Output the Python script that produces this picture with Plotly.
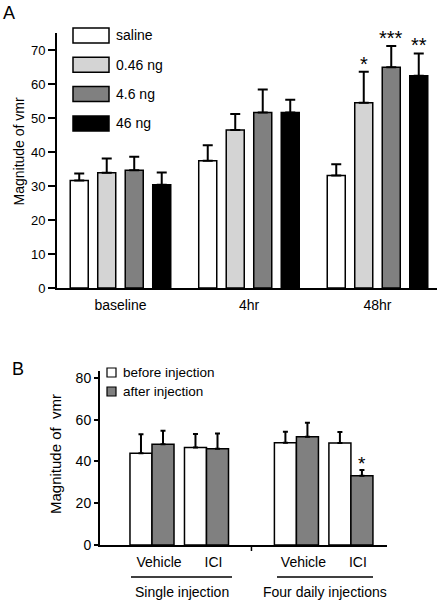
import plotly.graph_objects as go

# ---------------- Data ----------------
# Panel A
time_points = ["baseline", "4hr", "48hr"]
doses = ["saline", "0.46 ng", "4.6 ng", "46 ng"]
dose_colors = ["#ffffff", "#d4d4d4", "#808080", "#000000"]
vmr_saline = [31.6, 37.4, 33.1]
err_saline = [2.1, 4.6, 3.3]
vmr_046ng = [33.9, 46.5, 54.5]
err_046ng = [4.2, 4.7, 9.1]
vmr_46ng_a = [34.6, 51.6, 64.9]
err_46ng_a = [4.0, 6.8, 6.3]
vmr_46ng = [30.4, 51.6, 62.4]
err_46ng = [3.6, 3.8, 6.6]
stars_saline = ["", "", ""]
stars_046ng = ["", "", "*"]
stars_46ng_a = ["", "", "***"]
stars_46ng = ["", "", "**"]
yticks_a = [0, 10, 20, 30, 40, 50, 60, 70]

# Panel B
treatments = ["Vehicle", "ICI", "Vehicle", "ICI"]
regimens = ["Single injection", "Four daily injections"]
phases = ["before injection", "after injection"]
phase_colors = ["#ffffff", "#808080"]
vmr_before = [43.9, 46.7, 48.9, 48.8]
err_before = [9.1, 6.4, 5.3, 5.3]
vmr_after = [48.2, 46.1, 51.8, 33.2]
err_after = [6.5, 7.3, 6.7, 2.7]
stars_after = ["", "", "", "*"]
yticks_b = [0, 20, 40, 60, 80]

# ---------------- Layout helpers ----------------
W, H = 440, 601
FONT = "Liberation Sans, Arial, sans-serif"


def px(x):
    return x / W


def py(y):
    return 1 - y / H


# Panel A geometry
xa_dom = [px(57), px(437)]
ya_dom = [py(288), py(33)]
xa_range = [-0.494, 2.463]
ya_range = [0, 75]
bargap_a, bargroupgap_a = 0.144, 0.345

# Panel B geometry
xb_dom = [px(100), px(387)]
yb_dom = [py(545), py(371)]
xb_pos = [0, 1, 2.65, 3.65]
xb_range = [-0.954, 4.312]
yb_range = [0, 83.3]
bar_w_b = 0.404

fig = go.Figure()

series_a = [
    (vmr_saline, err_saline, stars_saline),
    (vmr_046ng, err_046ng, stars_046ng),
    (vmr_46ng_a, err_46ng_a, stars_46ng_a),
    (vmr_46ng, err_46ng, stars_46ng),
]

for name, color, (vals, errs, _) in zip(doses, dose_colors, series_a):
    fig.add_trace(go.Bar(
        x=time_points, y=vals, name=name, showlegend=False,
        marker=dict(color=color, line=dict(color="black", width=1.5)),
        error_y=dict(type="data", array=errs, arrayminus=[0] * len(errs),
                     symmetric=False, color="black", thickness=2, width=5),
        xaxis="x", yaxis="y",
    ))

for k, (name, color, vals, errs) in enumerate(zip(phases, phase_colors,
                                                  [vmr_before, vmr_after],
                                                  [err_before, err_after])):
    fig.add_trace(go.Bar(
        x=xb_pos, y=vals, name=name, showlegend=False,
        width=bar_w_b, offset=(k - 1) * bar_w_b,
        marker=dict(color=color, line=dict(color="black", width=1.5)),
        error_y=dict(type="data", array=errs, arrayminus=[0] * len(errs),
                     symmetric=False, color="black", thickness=2, width=2.5),
        xaxis="x2", yaxis="y2",
    ))

annotations = []
shapes = []

# significance stars, panel A
px_per_unit_a = (xa_dom[1] - xa_dom[0]) * W / (xa_range[1] - xa_range[0])
slot_a = (1 - bargap_a) / len(doses) * px_per_unit_a
for i, (vals, errs, stars) in enumerate(series_a):
    for j, s in enumerate(stars):
        if s:
            annotations.append(dict(
                x=time_points[j], y=vals[j] + errs[j], xref="x", yref="y",
                xshift=(i - (len(doses) - 1) / 2) * slot_a, yshift=-5,
                text=s, showarrow=False, xanchor="center", yanchor="bottom",
                font=dict(size=20, family=FONT, color="black")))

# significance stars, panel B
px_per_unit_b = (xb_dom[1] - xb_dom[0]) * W / (xb_range[1] - xb_range[0])
for j, s in enumerate(stars_after):
    if s:
        annotations.append(dict(
            x=xb_pos[j], y=vmr_after[j] + err_after[j], xref="x2", yref="y2",
            xshift=bar_w_b / 2 * px_per_unit_b, yshift=-6, text=s,
            showarrow=False, xanchor="center", yanchor="bottom",
            font=dict(size=19, family=FONT, color="black")))

# Legend A (wide rectangles)
for k, (name, color) in enumerate(zip(doses, dose_colors)):
    yc = 35.5 + k * 29.3
    shapes.append(dict(type="rect", xref="paper", yref="paper",
                       x0=px(73), x1=px(109), y0=py(yc + 7.5), y1=py(yc - 7.5),
                       fillcolor=color, line=dict(color="black", width=1.5)))
    annotations.append(dict(x=px(114), y=py(yc), xref="paper", yref="paper",
                            text=name, showarrow=False, xanchor="left",
                            yanchor="middle",
                            font=dict(size=14, family=FONT, color="black")))

# Legend B (small squares)
for k, (name, color) in enumerate(zip(phases, phase_colors)):
    yc = 372.5 + k * 19
    shapes.append(dict(type="rect", xref="paper", yref="paper",
                       x0=px(107), x1=px(116), y0=py(yc + 4.5), y1=py(yc - 4.5),
                       fillcolor=color, line=dict(color="black", width=1.2)))
    annotations.append(dict(x=px(121), y=py(yc), xref="paper", yref="paper",
                            text=name, showarrow=False, xanchor="left",
                            yanchor="middle",
                            font=dict(size=13.5, family=FONT, color="black")))

# Separator tick between regimens, panel B
mid_b = (xb_pos[1] + xb_pos[2]) / 2
shapes.append(dict(type="line", xref="x2", yref="paper", x0=mid_b, x1=mid_b,
                   y0=py(545), y1=py(551), line=dict(color="black", width=1.5)))

# Regimen underlines and labels
for name, (x0, x1) in zip(regimens, [(131, 232), (277, 373)]):
    shapes.append(dict(type="line", xref="paper", yref="paper",
                       x0=px(x0), x1=px(x1), y0=py(577), y1=py(577),
                       line=dict(color="black", width=1.5)))
    annotations.append(dict(x=px((x0 + x1) / 2), y=py(592), xref="paper",
                            yref="paper", text=name, showarrow=False,
                            xanchor="center", yanchor="middle",
                            font=dict(size=14, family=FONT, color="black")))

# Axis titles and panel letters
annotations += [
    dict(x=px(18), y=py(151.5), xref="paper", yref="paper",
         text="Magnitude of vmr", textangle=-90, showarrow=False,
         xanchor="center", yanchor="middle",
         font=dict(size=14, family=FONT, color="black")),
    dict(x=px(55), y=py(454), xref="paper", yref="paper",
         text="Magnitude of &nbsp;vmr", textangle=-90, showarrow=False,
         xanchor="center", yanchor="middle",
         font=dict(size=15, family=FONT, color="black")),
    dict(x=px(8.5), y=py(13.5), xref="paper", yref="paper", text="A",
         showarrow=False, xanchor="center", yanchor="middle",
         font=dict(size=18, family=FONT, color="black")),
    dict(x=px(18), y=py(369), xref="paper", yref="paper", text="B",
         showarrow=False, xanchor="center", yanchor="middle",
         font=dict(size=18, family=FONT, color="black")),
]

axis_common = dict(showgrid=False, zeroline=False, showline=True,
                   linecolor="black", linewidth=2, automargin=False)

fig.update_layout(
    template="none",
    width=W, height=H, autosize=False,
    margin=dict(l=0, r=0, t=0, b=0, pad=0),
    paper_bgcolor="white", plot_bgcolor="white",
    barmode="group", bargap=bargap_a, bargroupgap=bargroupgap_a,
    font=dict(family=FONT, color="black"),
    xaxis=dict(domain=xa_dom, range=xa_range, anchor="y", type="category",
               ticks="", tickfont=dict(size=14), ticklabelstandoff=3,
               **axis_common),
    yaxis=dict(domain=ya_dom, range=ya_range, anchor="x", tickvals=yticks_a,
               ticks="outside", ticklen=7, tickwidth=2, tickcolor="black",
               tickfont=dict(size=13), **axis_common),
    xaxis2=dict(domain=xb_dom, range=xb_range, anchor="y2", tickvals=xb_pos,
                ticktext=treatments, ticks="", tickfont=dict(size=14),
                ticklabelshift=7, ticklabelstandoff=3, **axis_common),
    yaxis2=dict(domain=yb_dom, range=yb_range, anchor="x2", tickvals=yticks_b,
                ticks="outside", ticklen=4, tickwidth=2, tickcolor="black",
                tickfont=dict(size=14), **axis_common),
    annotations=annotations,
    shapes=shapes,
)

fig.write_html("out.html",
               config={"displayModeBar": False, "staticPlot": True},
               post_script="document.body.style.margin='0';"
                           "document.body.style.overflow='hidden';")
